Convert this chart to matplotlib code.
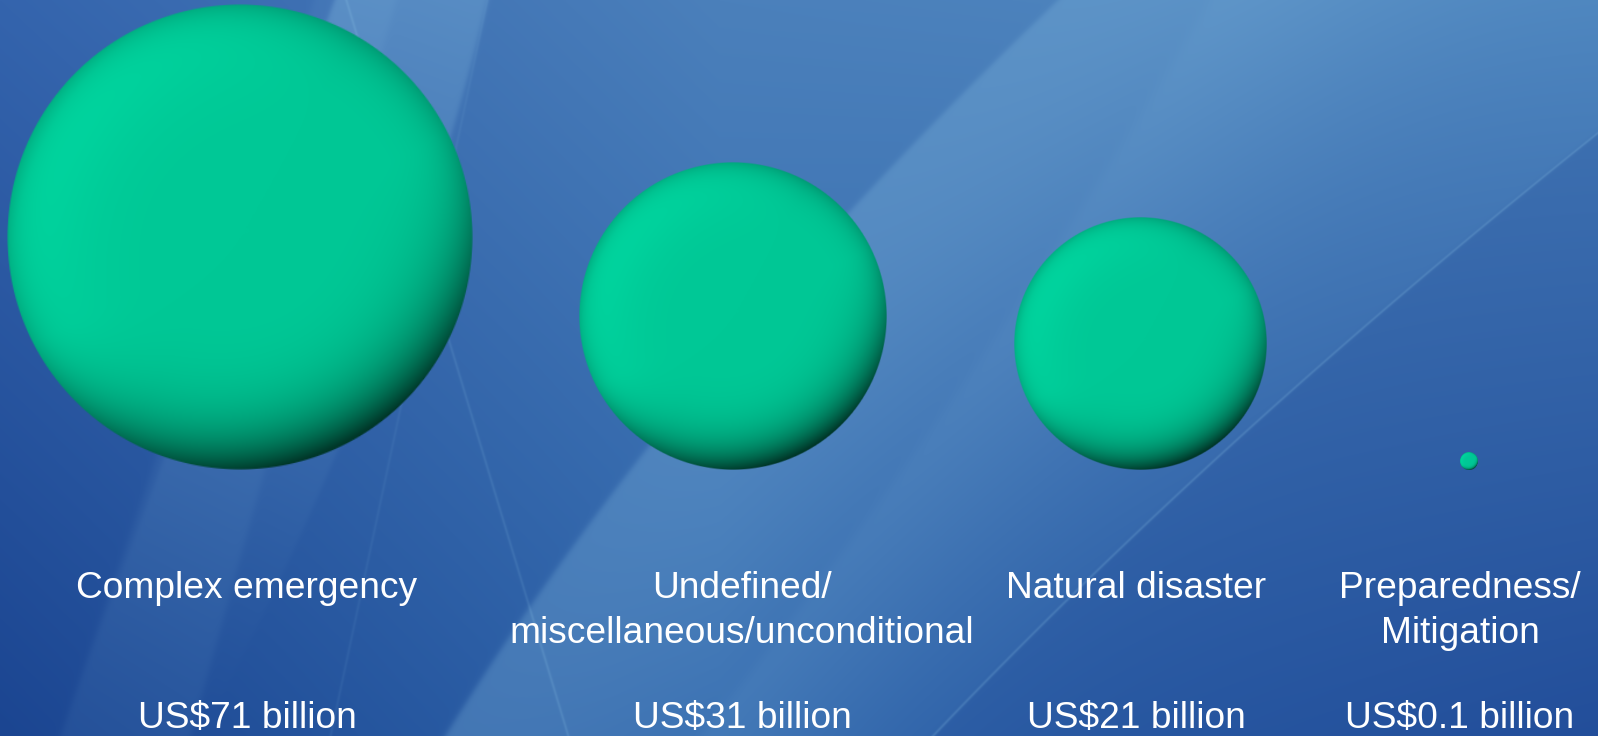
import numpy as np
import matplotlib
matplotlib.use("Agg")
import matplotlib.pyplot as plt

# data
categories = ["Complex emergency",
              "Undefined/\nmiscellaneous/unconditional",
              "Natural disaster",
              "Preparedness/\nMitigation"]
values = [71, 31, 21, 0.1]  # US$ billion
value_labels = ["US$%g billion" % v for v in values]

# layout (pixel space of the slide)
W, H = 1598, 736
bubble_x = [240, 733, 1140, 1469]
text_x = [247, 742, 1136, 1460]
base_y = 470          # bubbles sit on this line
k = 27.6              # radius = k * sqrt(value)

plt.rcParams['font.family'] = ['Liberation Sans', 'DejaVu Sans']


def soft(d, w):
    return 1.0 / (1.0 + np.exp(-np.clip(d / w, -50, 50)))


def edge(Y, ys, xs, deg=1):
    # smooth curve x(y) through a few guide points
    return np.polyval(np.polyfit(ys, xs, deg), Y)


def background():
    Y, X = np.mgrid[0:H, 0:W].astype(float)
    fx, fy = X / W, Y / H
    top_l, top_m, top_r = np.array([0x34, 0x64, 0xad]), np.array([0x4b, 0x80, 0xbb]), np.array([0x4e, 0x86, 0xbf])
    bot_l, bot_m, bot_r = np.array([0x1b, 0x45, 0x91]), np.array([0x2f, 0x65, 0xab]), np.array([0x24, 0x50, 0x9c])

    def lerp3(a, b, c, t):
        t = t[..., None]
        return np.where(t < 0.45, a + (b - a) * (t / 0.45), b + (c - b) * ((t - 0.45) / 0.55))

    top = lerp3(top_l, top_m, top_r, fx)
    bot = lerp3(bot_l, bot_m, bot_r, fx)
    img = (top + (bot - top) * fy[..., None]) / 255.0
    light = np.array([0x84, 0xbb, 0xe0]) / 255.0

    L = np.zeros((H, W))
    # big curved light zone (middle)
    xL = edge(Y, [0, 100, 212, 443, 736], [1046, 977, 840, 647, 446], 2)
    dC = X - xL
    L += 0.30 * soft(dC, 2.0) * np.exp(-(np.maximum(dC, 0) / 330) ** 2)
    xL2 = edge(Y, [0, 60, 300, 736], [1205, 1180, 1018, 700], 2)
    dC2 = X - xL2
    L += 0.08 * soft(dC2, 4.0) * np.exp(-(np.maximum(dC2, 0) / 220) ** 2)
    # light strip top-left, between first two bubbles
    xa = edge(Y, [0, 736], [334, 60])
    xb = edge(Y, [0, 150, 736], [487, 446, 200], 2)
    L += 0.32 * soft(X - xa, 1.5) * soft(xb - X, 1.5) * (1 - fy) ** 1.4
    # wedge below the big bubble
    xc = edge(Y, [457, 736], [156, 60])
    xd = edge(Y, [457, 736], [268, 190])
    L += 0.08 * soft(X - xc, 2) * soft(xd - X, 2)
    # thin streak lines
    for ys, xs, w, s in [([0, 736], [346, 568], 1.5, 0.14),
                         ([0, 736], [487, 330], 1.5, 0.08)]:
        d = X - edge(Y, ys, xs)
        L += s * np.exp(-(d / w) ** 2)
    L = np.clip(L, 0, 0.6)
    img = img * (1 - L[..., None]) + light * L[..., None]

    # darker bottom-right below a thin light line
    xD = edge(Y, [132, 400, 736], [1598, 1280, 932], 2)
    dD = X - xD
    dk = 0.25 * soft(dD, 2.0)
    img = img * (1 - dk[..., None]) + np.array([0x1e, 0x48, 0x95]) / 255.0 * dk[..., None]
    line = 0.22 * np.exp(-(dD / 2.0) ** 2)
    img = img * (1 - line[..., None]) + light * line[..., None]
    return np.clip(img, 0, 1)


def sphere_image(n=400):
    v, u = np.mgrid[1:-1:complex(0, n), -1:1:complex(0, n)]
    rho = np.sqrt(u ** 2 + v ** 2)
    rc = np.clip(rho, 0, 1)
    base = np.array([0, 200, 150]) / 255.0
    hi = np.array([0, 226, 168]) / 255.0
    dark = np.array([0, 70, 52]) / 255.0
    w = rc ** 3
    h = w * np.clip(-0.87 * u + 0.49 * v, 0, 1)
    dd = w * np.clip(0.45 * u - 0.89 * v, 0, 1)
    col = base + (hi - base) * np.clip(h * 1.3, 0, 1)[..., None]
    col = col + (dark - col) * np.clip(dd * 1.05, 0, 1)[..., None] ** 1.3
    col = col * (1 - 0.22 * rc ** 12)[..., None]
    alpha = np.clip((1 - rho) * n / 2 + 0.5, 0, 1)
    return np.dstack([np.clip(col, 0, 1), alpha])


fig = plt.figure(figsize=(W / 100, H / 100), dpi=100)
ax = fig.add_axes([0, 0, 1, 1])
ax.axis("off")

ax.imshow(background(), extent=[0, W, H, 0], interpolation="bilinear", zorder=0)

sph = sphere_image()
for x, val in zip(bubble_x, values):
    r = k * np.sqrt(val)
    cy = base_y - r
    ax.imshow(sph, extent=[x - r, x + r, cy + r, cy - r], interpolation="bilinear", zorder=2)

for x, cat, lab in zip(text_x, categories, value_labels):
    for i, line in enumerate(cat.split("\n")):
        ax.text(x, 598 + 45 * i, line, color="white", fontsize=26.7, ha="center",
                va="baseline", zorder=3)
    ax.text(x, 728, lab, color="white", fontsize=26.7, ha="center", va="baseline", zorder=3)

ax.set_xlim(0, W)
ax.set_ylim(H, 0)
fig.savefig("out.png", dpi=100)
